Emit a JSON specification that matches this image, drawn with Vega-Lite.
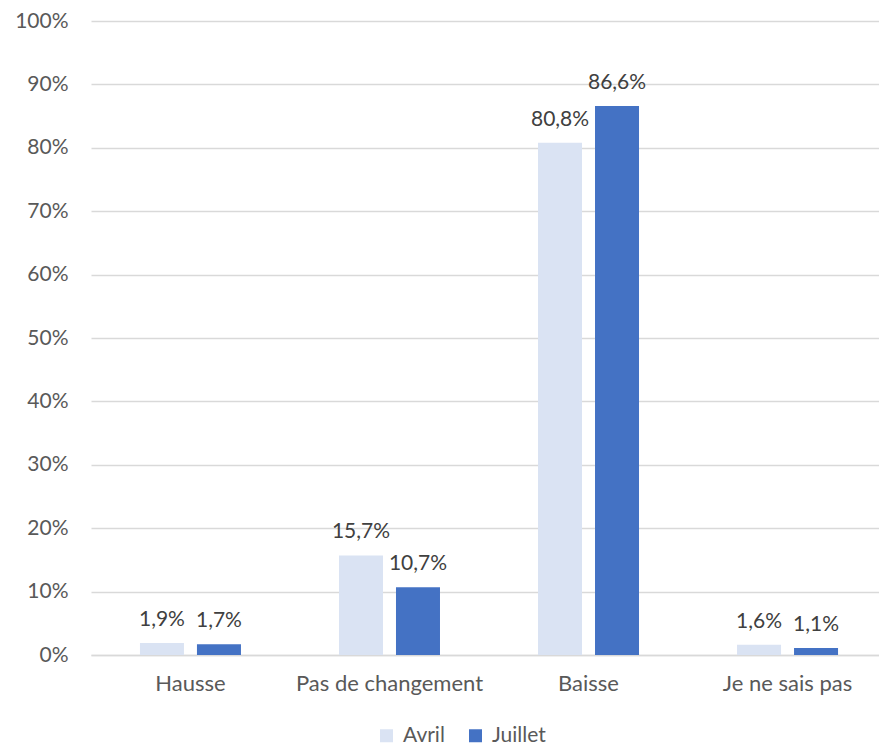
{
  "$schema": "https://vega.github.io/schema/vega-lite/v6.json",
  "width": 788,
  "height": 634,
  "autosize": "none",
  "padding": {"left": 91, "top": 21, "right": 0, "bottom": 92},
  "config": {
    "locale": {"number": {"decimal": ",", "thousands": "\u00a0", "grouping": [3], "currency": ["", "\u00a0€"]}},
    "view": {"stroke": null},
    "font": "Lato"
  },
  "data": {
    "values": [
      {"cat": "Hausse", "serie": "Avril", "val": 0.019},
      {"cat": "Hausse", "serie": "Juillet", "val": 0.017},
      {"cat": "Pas de changement", "serie": "Avril", "val": 0.157},
      {"cat": "Pas de changement", "serie": "Juillet", "val": 0.107},
      {"cat": "Baisse", "serie": "Avril", "val": 0.808},
      {"cat": "Baisse", "serie": "Juillet", "val": 0.866},
      {"cat": "Je ne sais pas", "serie": "Avril", "val": 0.016},
      {"cat": "Je ne sais pas", "serie": "Juillet", "val": 0.011}
    ]
  },
  "encoding": {
    "x": {
      "field": "cat",
      "type": "nominal",
      "sort": ["Hausse", "Pas de changement", "Baisse", "Je ne sais pas"],
      "scale": {"range": [0, 796], "paddingInner": 0.4925, "paddingOuter": 0.246},
      "axis": {
        "title": null,
        "labelAngle": 0,
        "labelLimit": 400,
        "domainColor": "#D9D9D9",
        "domainWidth": 1.3,
        "ticks": false,
        "tickSize": 0,
        "labelPadding": 18,
        "labelFontSize": 22,
        "labelColor": "#595959",
        "grid": false
      }
    },
    "xOffset": {
      "field": "serie",
      "type": "nominal",
      "sort": ["Avril", "Juillet"],
      "scale": {"paddingInner": 0.228, "paddingOuter": 0}
    },
    "y": {
      "field": "val",
      "type": "quantitative",
      "scale": {"domain": [0, 1], "nice": false},
      "axis": {
        "title": null,
        "values": [0, 0.1, 0.2, 0.3, 0.4, 0.5, 0.6, 0.7, 0.8, 0.9, 1],
        "format": ".0%",
        "grid": true,
        "gridColor": "#D9D9D9",
        "gridWidth": 1.3,
        "domain": false,
        "ticks": false,
        "tickSize": 0,
        "labelPadding": 23,
        "labelFontSize": 21,
        "labelColor": "#595959"
      }
    }
  },
  "layer": [
    {
      "mark": {"type": "bar"},
      "encoding": {
        "color": {
          "field": "serie",
          "type": "nominal",
          "scale": {"domain": ["Avril", "Juillet"], "range": ["#DAE3F3", "#4472C4"]},
          "legend": {
            "orient": "none",
            "direction": "horizontal",
            "legendX": 285,
            "legendY": 704,
            "title": null,
            "symbolType": "square",
            "symbolSize": 169,
            "symbolStrokeWidth": 0,
            "labelFontSize": 21,
            "labelColor": "#595959",
            "columnPadding": 20,
            "labelOffset": 6
          }
        }
      }
    },
    {
      "mark": {"type": "text", "baseline": "alphabetic", "dy": -17, "fontSize": 21, "color": "#404040"},
      "encoding": {
        "text": {"field": "val", "type": "quantitative", "format": ".1%"}
      }
    }
  ]
}
